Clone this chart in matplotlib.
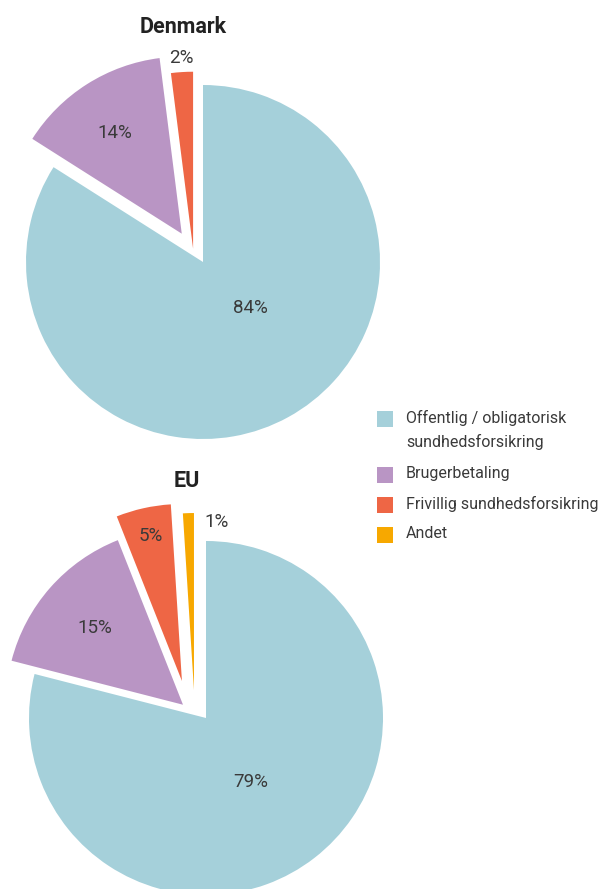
import matplotlib.pyplot as plt
from matplotlib.patches import Rectangle

# Finansiering af sundhedsudgifter, Danmark og EU
categories = ["Offentlig / obligatorisk\nsundhedsforsikring", "Brugerbetaling",
              "Frivillig sundhedsforsikring", "Andet"]
colors = ["#A5D0DA", "#B995C4", "#EE6645", "#F7A800"]

dk_values = [84, 14, 2]
eu_values = [79, 15, 5, 1]

plt.rcParams["font.family"] = ["Roboto", "DejaVu Sans"]
W, H = 603, 889
fig = plt.figure(figsize=(W / 100, H / 100), dpi=100)

R = 177      # pie radius in pixels
HALF = 260   # half size of each axes in pixels
L = HALF / R
TXT = "#3a3a3a"


def pie_axes(cx, cy):
    return fig.add_axes([(cx - HALF) / W, (H - cy - HALF) / H, 2 * HALF / W, 2 * HALF / H])


def draw(ax, values, shifts, label_pos, title, title_y):
    wedges, _ = ax.pie(values, colors=colors[:len(values)], startangle=90,
                       counterclock=False, wedgeprops={"linewidth": 0})
    # pulled-out slices
    for w, s in zip(wedges, shifts):
        w.set_center(s)
    for v, (x, y) in zip(values, label_pos):
        ax.text(x, y, f"{v}%", ha="center", va="center", fontsize=13.5,
                color=TXT)
    ax.text(-0.11, title_y, title, ha="center", va="center", fontsize=15.5,
            fontweight="bold", color="#222222")
    ax.set_aspect("equal")
    ax.set_xlim(-L, L)
    ax.set_ylim(-L, L)
    ax.axis("off")


ax1 = pie_axes(203, 262)
draw(ax1, dk_values, [(0, 0), (-0.12, 0.16), (-0.056, 0.075)],
     [(0.27, -0.26), (-0.50, 0.73), (-0.12, 1.15)], "Denmark", 1.33)

ax2 = pie_axes(206, 718)
draw(ax2, eu_values, [(0, 0), (-0.13, 0.075), (-0.136, 0.209), (-0.068, 0.158)],
     [(0.25, -0.36), (-0.63, 0.51), (-0.31, 1.03), (0.06, 1.11)], "EU", 1.34)

# legend, drawn by hand so the square lines up with the first text line
rows = [419, 475, 505, 535]
for c, lab, y in zip(colors, categories, rows):
    fig.patches.append(Rectangle((377 / W, 1 - (y + 8) / H), 16 / W, 16 / H,
                                 transform=fig.transFigure, facecolor=c,
                                 edgecolor="none"))
    fig.text(406 / W, 1 - (y - 9) / H, lab, ha="left", va="top", fontsize=11.5,
             color=TXT, linespacing=1.65)

fig.savefig("out.png", dpi=100)
